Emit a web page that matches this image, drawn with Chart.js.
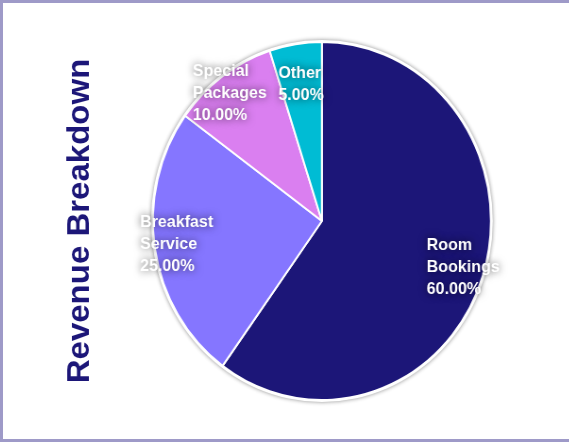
<!DOCTYPE html>
<html>
<head>
<meta charset="utf-8">
<script src="https://cdn.jsdelivr.net/npm/chart.js@4/dist/chart.umd.min.js"></script>
<style>
  html, body { margin: 0; padding: 0; background: #fff; overflow: hidden; }
  #wrap { border: 3px solid #9e9ac8; width: 600px; height: 436px; overflow: hidden; background: #fff; }
  #c { display: block; width: 600px; height: 436px; transform: scaleX(0.944); transform-origin: 0 0; }
</style>
</head>
<body>
<div id="wrap"><canvas id="c" width="600" height="436"></canvas></div>
<script>
const categories = ['Room Bookings', 'Breakfast Service', 'Special Packages', 'Other'];
const revenueShare = [60, 25, 10, 5];
const sliceColors = ['#1c1678', '#8576ff', '#da7ff0', '#00bcd4'];
const chartTitle = 'Revenue Breakdown';

const pieHalo = {
  id: 'pieHalo',
  beforeDatasetsDraw(chart) {
    const arc = chart.getDatasetMeta(0).data[0];
    if (!arc) return;
    const ctx = chart.ctx;
    ctx.save();
    ctx.shadowColor = 'rgba(0,0,0,0.45)';
    ctx.shadowBlur = 4;
    ctx.fillStyle = '#ffffff';
    ctx.beginPath();
    ctx.arc(arc.x, arc.y, arc.outerRadius + 2, 0, Math.PI * 2);
    ctx.fill();
    ctx.restore();
  }
};

const sliceLabels = {
  id: 'sliceLabels',
  afterDatasetsDraw(chart) {
    const ctx = chart.ctx;
    const meta = chart.getDatasetMeta(0);
    const data = chart.data.datasets[0].data;
    const total = data.reduce((a, b) => a + b, 0);
    const pad = 4, lh = 22, off = 23;
    ctx.save();
    ctx.font = 'bold 17px "Liberation Sans", Arial, sans-serif';
    ctx.textAlign = 'left';
    ctx.textBaseline = 'middle';
    meta.data.forEach((el, i) => {
      const lines = chart.data.labels[i].split(' ');
      lines.push((data[i] / total * 100).toFixed(2) + '%');
      const tw = Math.max(...lines.map(l => ctx.measureText(l).width));
      const w = tw + 2 * pad, h = lines.length * lh + 2 * pad;
      const ang = (el.startAngle + el.endAngle) / 2;
      const vx = Math.cos(ang), vy = Math.sin(ang);
      const mid = (el.innerRadius + el.outerRadius) / 2;
      const vs = 1 / Math.max(Math.abs(vx), Math.abs(vy));
      const cx = el.x + vx * mid + (w / 2) * vx * vs + off * vx;
      const cy = el.y + vy * mid + (h / 2) * vy * vs + off * vy;
      ctx.shadowColor = 'rgba(0,0,0,0.65)';
      ctx.shadowBlur = 9;
      ctx.fillStyle = '#ffffff';
      lines.forEach((l, k) => {
        ctx.fillText(l, cx - w / 2 + pad, cy - h / 2 + pad + lh * (k + 0.5));
      });
    });
    ctx.restore();
  }
};

new Chart(document.getElementById('c'), {
  type: 'pie',
  data: {
    labels: categories,
    datasets: [{
      data: revenueShare,
      backgroundColor: sliceColors,
      borderColor: '#ffffff',
      borderWidth: 2,
      hoverOffset: 0
    }]
  },
  options: {
    responsive: false,
    animation: false,
    devicePixelRatio: 1,
    layout: { padding: { left: 52, right: 36, top: 38, bottom: 38 } },
    plugins: {
      legend: { display: false },
      tooltip: { enabled: false },
      title: {
        display: true,
        text: chartTitle,
        position: 'left',
        color: '#1c1678',
        font: { size: 33, weight: 'bold', family: '"Liberation Sans", Arial, sans-serif' },
        padding: 10
      }
    }
  },
  plugins: [pieHalo, sliceLabels]
});
</script>
</body>
</html>
